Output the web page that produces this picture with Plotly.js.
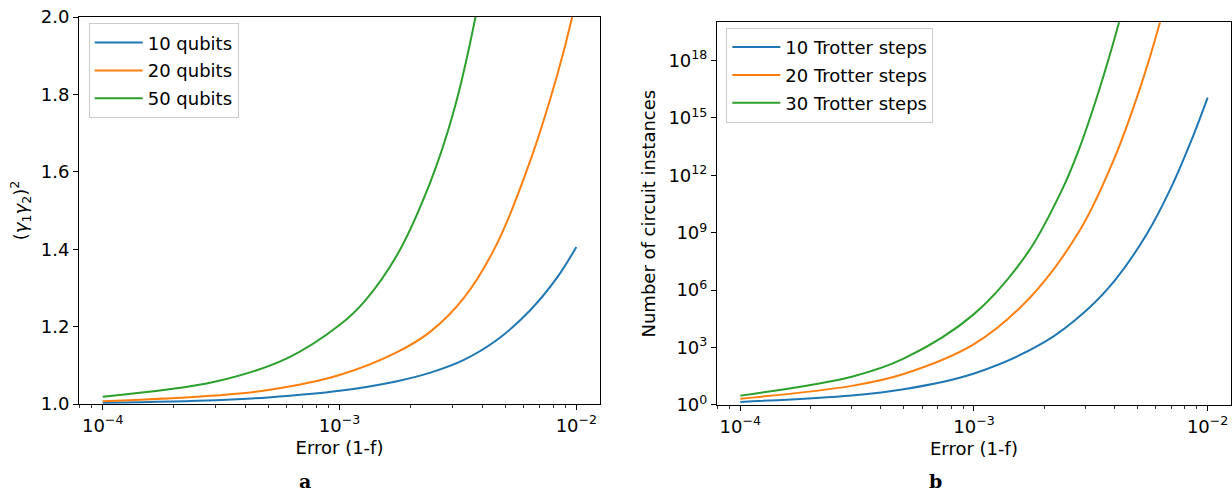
<!DOCTYPE html>
<html>
<head>
<meta charset="utf-8">
<script src="https://cdn.plot.ly/plotly-3.0.1.min.js"></script>
<style>html,body{margin:0;padding:0;background:#fff;}#chart{width:1232px;height:494px;}</style>
</head>
<body>
<div id="chart"></div>
<script>
// ---------- Panel a: (gamma1 gamma2)^2 vs error ----------
const errA10 = [1e-4, 3e-4, 5e-4, 1e-3, 1.75e-3, 2.42e-3, 3.35e-3, 4.63e-3, 6.4e-3, 8.3e-3, 1e-2];
const gamma10 = [1.003, 1.010, 1.017, 1.034, 1.059, 1.081, 1.114, 1.166, 1.243, 1.327, 1.406];

const errA20 = [1e-4, 3e-4, 5e-4, 1e-3, 1.75e-3, 2.42e-3, 3.35e-3, 4.63e-3, 6.4e-3, 8.3e-3, 9.6e-3, 1e-2];
const gamma20 = [1.007, 1.022, 1.036, 1.075, 1.134, 1.187, 1.274, 1.415, 1.63, 1.85, 2.0, 2.055];

const errA50 = [1e-4, 3e-4, 6e-4, 1e-3, 1.27e-3, 1.75e-3, 2.42e-3, 3.03e-3, 3.75e-3, 4e-3];
const gamma50 = [1.019, 1.058, 1.118, 1.204, 1.264, 1.385, 1.574, 1.755, 2.0, 2.1];

const seriesA = ['10 qubits', '20 qubits', '50 qubits'];

// ---------- Panel b: number of circuit instances vs error ----------
const errB10 = [1e-4, 3e-4, 5e-4, 1e-3, 2e-3, 3e-3, 4e-3, 5.5e-3, 7e-3, 8.5e-3, 1e-2];
const inst10 = [1.45, 3.16, 6.61, 44.7, 1.91e3, 7.94e4, 3.16e6, 8.91e8, 2.51e11, 6.31e13, 1.17e16];

const errB20 = [1e-4, 3e-4, 5e-4, 1e-3, 1.75e-3, 2.86e-3, 3.96e-3, 5.15e-3, 6.24e-3, 7e-3];
const inst20 = [2.14, 10.0, 41.7, 1.51e3, 4.57e5, 1.58e9, 6.31e12, 3.98e16, 9.12e19, 2.51e22];

const errB30 = [1e-4, 3e-4, 5e-4, 1e-3, 1.69e-3, 2.35e-3, 2.77e-3, 3.42e-3, 4.17e-3, 4.6e-3];
const inst30 = [3.09, 30.2, 263, 5.62e4, 8.32e7, 1.26e11, 1.38e13, 2.51e16, 9.12e19, 1e22];

const seriesB = ['10 Trotter steps', '20 Trotter steps', '30 Trotter steps'];

// ---------- Tick labels ----------
const xTickVals = [1e-4, 1e-3, 1e-2];
const xTickText = ['10<sup>\u22124</sup>', '10<sup>\u22123</sup>', '10<sup>\u22122</sup>'];
const yTickValsA = [1.0, 1.2, 1.4, 1.6, 1.8, 2.0];
const yTickTextA = ['1.0', '1.2', '1.4', '1.6', '1.8', '2.0'];
const yTickValsB = [1, 1e3, 1e6, 1e9, 1e12, 1e15, 1e18];
const yTickTextB = ['10<sup>0</sup>', '10<sup>3</sup>', '10<sup>6</sup>', '10<sup>9</sup>', '10<sup>12</sup>', '10<sup>15</sup>', '10<sup>18</sup>'];

const colors = ['#1f77b4', '#ff7f0e', '#2ca02c'];

// minor tick positions (2..9 per decade)
const minorX = [];
for (let e = -5; e <= -2; e++) for (let k = 2; k <= 9; k++) minorX.push(k * Math.pow(10, e));

const FONT = 'DejaVu Sans, sans-serif';

function tr(x, y, name, i, xa, ya, leg) {
  return {
    x: x, y: y, name: name, type: 'scatter', mode: 'lines',
    line: {color: colors[i], width: 2, shape: 'spline', smoothing: 1.0},
    xaxis: xa, yaxis: ya, legend: leg, legendgroup: leg + i, showlegend: true,
    hoverinfo: 'skip'
  };
}

const data = [
  tr(errA10, gamma10, seriesA[0], 0, 'x', 'y', 'legend'),
  tr(errA20, gamma20, seriesA[1], 1, 'x', 'y', 'legend'),
  tr(errA50, gamma50, seriesA[2], 2, 'x', 'y', 'legend'),
  tr(errB10, inst10, seriesB[0], 0, 'x2', 'y2', 'legend2'),
  tr(errB20, inst20, seriesB[1], 1, 'x2', 'y2', 'legend2'),
  tr(errB30, inst30, seriesB[2], 2, 'x2', 'y2', 'legend2')
];

const W = 1232, H = 494;
const L = 78.6, R = 1230.7, T = 16.7, B = 405;
const pw = R - L, ph = B - T;
const px = v => (v - L) / pw;
const py = v => (B - v) / ph;

function xaxisCfg(dom, anchor) {
  return {
    type: 'log', domain: dom, anchor: anchor, range: [-4.1, -1.9],
    tickmode: 'array', tickvals: xTickVals, ticktext: xTickText,
    ticks: 'outside', ticklen: 5, tickwidth: 1, tickcolor: '#000',
    showline: true, linecolor: '#000', linewidth: 1, mirror: true,
    showgrid: false, zeroline: false, automargin: false,
    tickfont: {family: FONT, size: 18, color: '#000'},
    minor: {tickmode: 'array', tickvals: minorX, ticks: 'outside', ticklen: 3, tickwidth: 0.8, tickcolor: '#000', showgrid: false},
    title: {text: 'Error (1-f)', font: {family: FONT, size: 18, color: '#000'}, standoff: 6}
  };
}

function legendCfg(x, y) {
  return {
    x: x, y: y, xanchor: 'left', yanchor: 'top',
    bgcolor: 'rgba(255,255,255,0.8)', bordercolor: '#cccccc', borderwidth: 1,
    font: {family: FONT, size: 18, color: '#000'}, tracegroupgap: 1.5, traceorder: 'grouped',
    itemwidth: 48
  };
}

const layout = {
  width: W, height: H,
  margin: {l: L, r: W - R, t: T, b: H - B, pad: 0},
  paper_bgcolor: '#fff', plot_bgcolor: '#fff',
  font: {family: FONT, size: 18, color: '#000'},
  xaxis: xaxisCfg([0, px(599.7)], 'y'),
  yaxis: {
    domain: [py(404), 1], anchor: 'x', range: [1.0, 2.0],
    tickmode: 'array', tickvals: yTickValsA, ticktext: yTickTextA,
    ticks: 'outside', ticklen: 5, tickwidth: 1, tickcolor: '#000',
    showline: true, linecolor: '#000', linewidth: 1, mirror: true,
    showgrid: false, zeroline: false, automargin: false,
    tickfont: {family: FONT, size: 18, color: '#000'},
    title: {text: '(<i>\u03b3</i><sub>1</sub><i>\u03b3</i><sub>2</sub>)<sup>2</sup>', font: {family: FONT, size: 18, color: '#000'}, standoff: 8}
  },
  xaxis2: xaxisCfg([px(716.6), 1], 'y2'),
  yaxis2: {
    type: 'log', domain: [0, py(22)], anchor: 'x2', range: [0, 20],
    tickmode: 'array', tickvals: yTickValsB, ticktext: yTickTextB,
    ticks: 'outside', ticklen: 5, tickwidth: 1, tickcolor: '#000',
    showline: true, linecolor: '#000', linewidth: 1, mirror: true,
    showgrid: false, zeroline: false, automargin: false,
    tickfont: {family: FONT, size: 18, color: '#000'},
    title: {text: 'Number of circuit instances', font: {family: FONT, size: 18, color: '#000'}, standoff: 8}
  },
  legend: legendCfg(px(88.3), py(23)),
  legend2: legendCfg(px(726), py(27.5)),
  annotations: [
    {text: '<b>a</b>', xref: 'paper', yref: 'paper', x: px(305), y: py(481), xanchor: 'center', yanchor: 'middle', showarrow: false, font: {family: 'DejaVu Serif, serif', size: 19, color: '#000'}},
    {text: '<b>b</b>', xref: 'paper', yref: 'paper', x: px(935), y: py(481), xanchor: 'center', yanchor: 'middle', showarrow: false, font: {family: 'DejaVu Serif, serif', size: 19, color: '#000'}}
  ],
  showlegend: true
};

Plotly.newPlot('chart', data, layout, {staticPlot: true, displayModeBar: false});
</script>
</body>
</html>
